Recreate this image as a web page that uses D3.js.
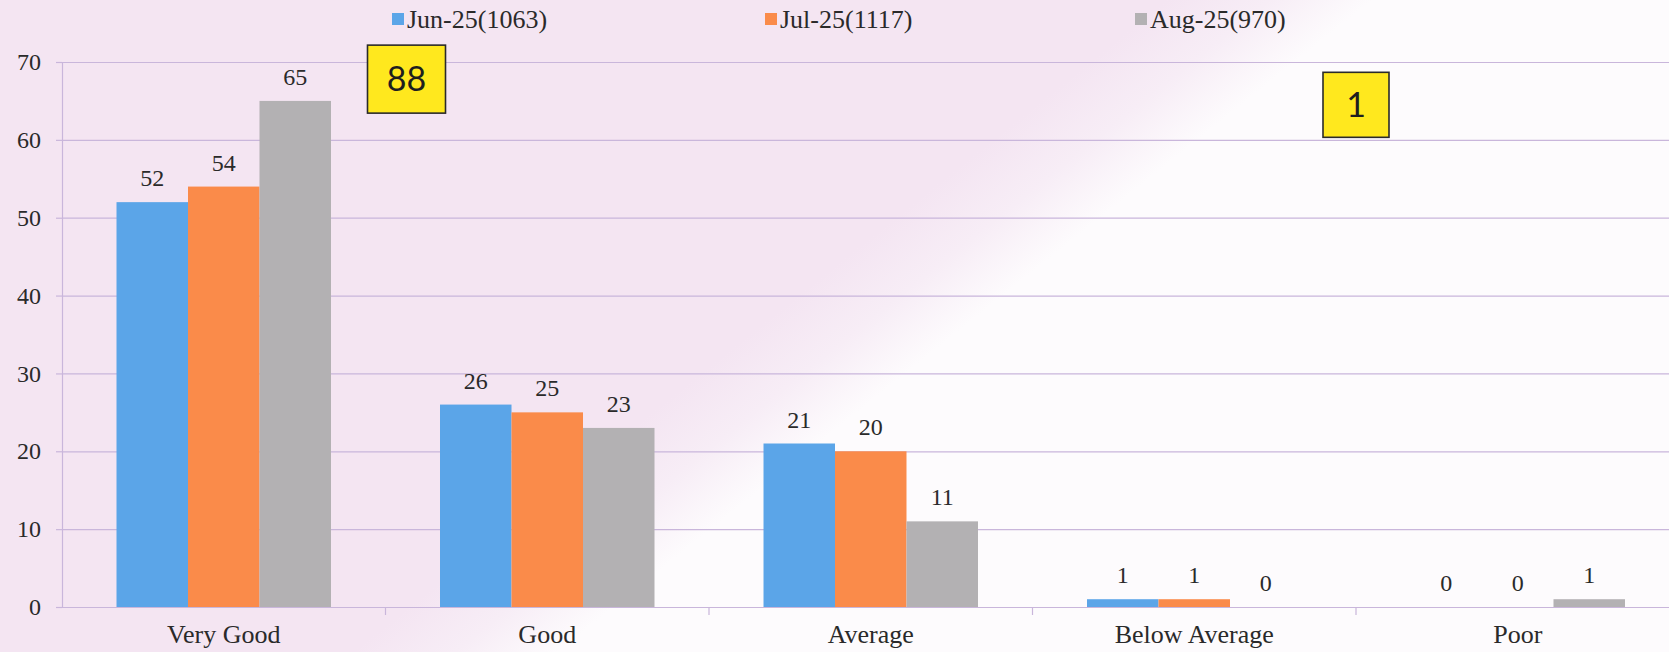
<!DOCTYPE html>
<html>
<head>
<meta charset="utf-8">
<script src="https://cdn.jsdelivr.net/npm/d3@7"></script>
<style>
  html, body { margin: 0; padding: 0; background: #ffffff; overflow: hidden; }
  svg { display: block; }
</style>
</head>
<body>
<svg id="chart" width="1669" height="652"></svg>
<script>
// Ratings by month (percent of respondents; sample size in the series name)
const categories = ["Very Good", "Good", "Average", "Below Average", "Poor"];
const seriesNames = ["Jun-25(1063)", "Jul-25(1117)", "Aug-25(970)"];
const jun25 = [52, 26, 21, 1, 0];
const jul25 = [54, 25, 20, 1, 0];
const aug25 = [65, 23, 11, 0, 1];
const yTicks = [0, 10, 20, 30, 40, 50, 60, 70];
const calloutLabels = ["88", "1"];

const seriesColors = ["#5ba5e8", "#fa8b4a", "#b3b1b3"];
const seriesValues = [jun25, jul25, aug25];

const W = 1669, H = 652;
const svg = d3.select("#chart");

// Paper-like background: lavender wash on the upper left, fading to white
const defs = svg.append("defs");
const bg = defs.append("linearGradient")
  .attr("id", "bgWash")
  .attr("gradientUnits", "userSpaceOnUse")
  .attr("x1", 830).attr("y1", 270)
  .attr("x2", 910).attr("y2", 370);
bg.append("stop").attr("offset", 0).attr("stop-color", "#f4e5f2");
bg.append("stop").attr("offset", 0.5).attr("stop-color", "#f7edf6");
bg.append("stop").attr("offset", 1).attr("stop-color", "#fdfbfd");
svg.append("rect").attr("width", W).attr("height", H).attr("fill", "url(#bgWash)");

// Scales
const axisX = 62;
const x0 = d3.scaleBand()
  .domain(categories)
  .range([axisX, axisX + 5 * 323.5])
  .paddingInner(0.337)
  .paddingOuter(0.1685);
const x1 = d3.scaleBand()
  .domain(seriesNames)
  .range([0, x0.bandwidth()]);
const y = d3.scaleLinear().domain([0, 70]).range([607, 62]);

const gridColor = "#c9b6db";
const textColor = "#2a2a2a";
const serif = "'Liberation Serif', 'Times New Roman', serif";

// Horizontal gridlines
const grid = svg.append("g")
  .attr("transform", `translate(${axisX},0)`)
  .call(d3.axisLeft(y).tickValues(yTicks).tickSize(-(W - axisX)).tickFormat(""));
grid.select(".domain").remove();
grid.selectAll("line").attr("stroke", gridColor).attr("stroke-width", 1.2);

// Y axis with labels
const yAxis = svg.append("g")
  .attr("transform", `translate(${axisX},0)`)
  .call(d3.axisLeft(y).tickValues(yTicks).tickSize(6).tickSizeOuter(0).tickPadding(15));
yAxis.select(".domain").attr("stroke", gridColor).attr("stroke-width", 1.2);
yAxis.selectAll(".tick line").attr("stroke", gridColor).attr("stroke-width", 1.2);
yAxis.selectAll("text")
  .attr("fill", textColor)
  .style("font-family", serif)
  .style("font-size", "24px");

// Category boundary tick marks below the baseline
const gap = x0.step() * x0.paddingInner() / 2;
const boundaries = categories.map(c => x0(c) + x0.bandwidth() + gap);
svg.append("g").selectAll("line")
  .data(boundaries)
  .join("line")
  .attr("x1", d => d).attr("x2", d => d)
  .attr("y1", y(0)).attr("y2", y(0) + 8)
  .attr("stroke", gridColor).attr("stroke-width", 1.2);

// X axis category labels
const xAxis = svg.append("g")
  .attr("transform", `translate(0,${y(0)})`)
  .call(d3.axisBottom(x0).tickSize(0).tickPadding(18));
xAxis.select(".domain").remove();
xAxis.selectAll("text")
  .attr("fill", textColor)
  .style("font-family", serif)
  .style("font-size", "26px");

// Bars
const groups = svg.append("g").selectAll("g")
  .data(categories)
  .join("g")
  .attr("transform", c => `translate(${x0(c)},0)`);

const cells = groups.selectAll("g")
  .data((c, i) => seriesNames.map((s, k) => ({ series: s, k, value: seriesValues[k][i] })))
  .join("g");

cells.append("rect")
  .attr("x", d => x1(d.series))
  .attr("width", x1.bandwidth())
  .attr("y", d => y(d.value))
  .attr("height", d => y(0) - y(d.value))
  .attr("fill", d => seriesColors[d.k]);

cells.append("text")
  .attr("x", d => x1(d.series) + x1.bandwidth() / 2)
  .attr("y", d => y(d.value) - 16)
  .attr("text-anchor", "middle")
  .attr("fill", textColor)
  .style("font-family", serif)
  .style("font-size", "24px")
  .text(d => d.value);

// Legend
const legendX = [392, 765, 1135];
const legend = svg.append("g").selectAll("g")
  .data(seriesNames)
  .join("g")
  .attr("transform", (d, i) => `translate(${legendX[i]},0)`);
legend.append("rect")
  .attr("x", 0).attr("y", 13).attr("width", 12).attr("height", 12)
  .attr("fill", (d, i) => seriesColors[i]);
legend.append("text")
  .attr("x", 15).attr("y", 28)
  .attr("fill", textColor)
  .style("font-family", serif)
  .style("font-size", "26px")
  .text(d => d);

// Yellow callout boxes
const callouts = [
  { label: calloutLabels[0], cx: boundaries[0] + 21, cy: y(67.8), w: 78, h: 68 },
  { label: calloutLabels[1], cx: boundaries[3], cy: y(64.5), w: 66, h: 65 }
];
const cg = svg.append("g").selectAll("g")
  .data(callouts)
  .join("g")
  .attr("transform", d => `translate(${d.cx},${d.cy})`);
cg.append("rect")
  .attr("x", d => -d.w / 2).attr("y", d => -d.h / 2)
  .attr("width", d => d.w).attr("height", d => d.h)
  .attr("fill", "#ffe81e")
  .attr("stroke", "#2a2a2a")
  .attr("stroke-width", 1.6);
cg.append("text")
  .attr("text-anchor", "middle")
  .attr("dy", "0.36em")
  .attr("fill", "#1e1e1e")
  .style("font-family", "Lato, 'Open Sans', sans-serif")
  .style("font-size", "34px")
  .text(d => d.label);
</script>
</body>
</html>
